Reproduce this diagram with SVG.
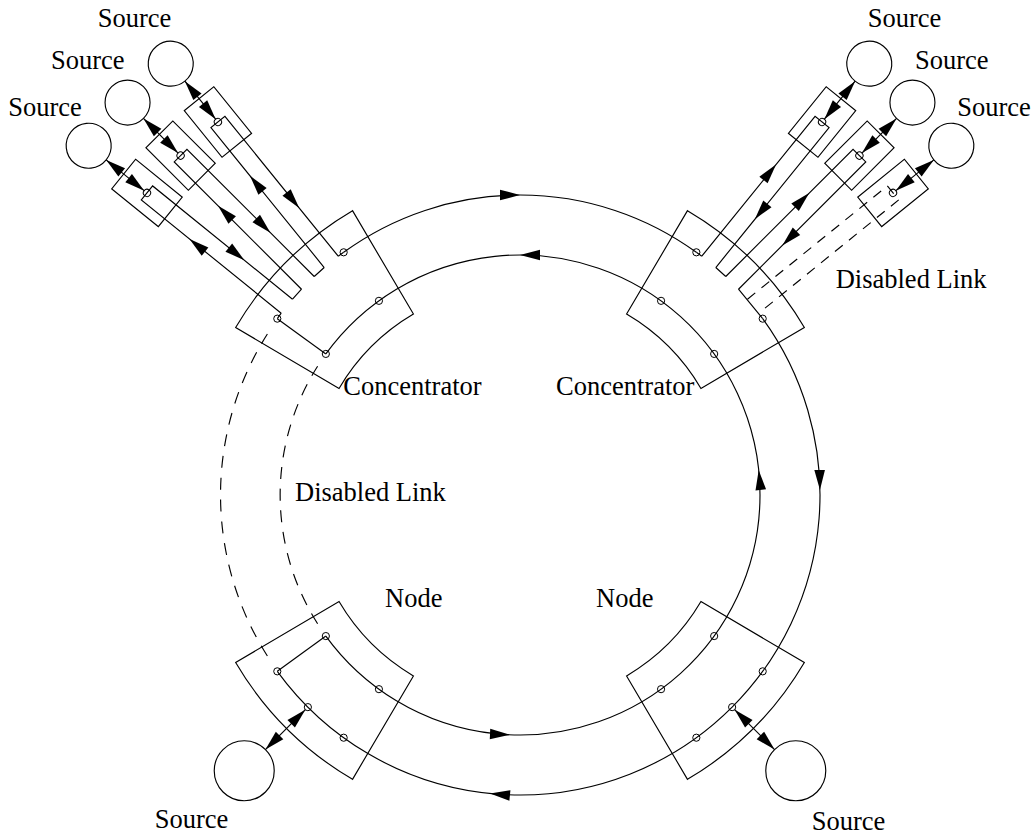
<svg xmlns="http://www.w3.org/2000/svg" xmlns:xlink="http://www.w3.org/1999/xlink" width="1035" height="836" viewBox="0 0 1035 836">
<style>
.ln{fill:none;stroke:#000;stroke-width:1.15}
.dl{fill:none;stroke:#000;stroke-width:1.15;stroke-dasharray:12 9.9}
.dl2{fill:none;stroke:#000;stroke-width:1.15;stroke-dasharray:12 9.7}
.dk{fill:none;stroke:#000;stroke-width:1.15;stroke-dasharray:10 8}
.pt{fill:none;stroke:#000;stroke-width:1}
.ah{fill:#000;stroke:none}
text{font-family:"Liberation Serif","Times New Roman",serif;font-size:26.5px;fill:#000}
</style>
<defs>
<path id="ah" class="ah" d="M0,0 L-20,-5.3 L-20,5.3 Z"/>
<path id="box" class="ln" d="M203.31,-52.58 L319.49,-82.63 A330,330 0 0 1 319.49,82.63 L203.31,52.58 A210,210 0 0 0 203.31,-52.58 Z"/>
<g id="remote">
<rect class="ln" x="450" y="-19" width="60" height="38"/>
<circle class="pt" cx="480" cy="0" r="3.6"/>
<circle class="ln" cx="555" cy="0" r="22.5"/>
<path class="ln" d="M483.6,0 H532.5"/>
<use xlink:href="#ah" transform="translate(483.6,0) rotate(180)"/>
<use xlink:href="#ah" transform="translate(532.5,0)"/>
</g>
<g id="leg">
<path class="ln" d="M300,-9 H480 V9 H300"/>
<use xlink:href="#ah" transform="translate(418,-9)"/>
<use xlink:href="#ah" transform="translate(362,9) rotate(180)"/>
</g>
</defs>
<rect width="1035" height="836" fill="#fff"/>

<g id="connectors">
<path class="ln" d="M343.66,252.30 A300,300 0 0 1 696.34,252.30"/>
<path class="ln" d="M762.70,318.66 A300,300 0 0 1 732.13,707.13 A300,300 0 0 1 277.30,671.34"/>
<path class="ln" d="M325.84,636.07 A240,240 0 1 0 325.84,353.93"/>
<path class="ln" d="M277.30,318.66 L325.84,353.93"/>
<path class="ln" d="M277.30,671.34 L325.84,636.07"/>
<path class="dl" d="M267.38,655.98 A300,300 0 0 1 267.38,334.02"/>
<path class="dl2" d="M317.60,623.74 A240,240 0 0 1 317.60,366.26"/>
<use xlink:href="#ah" transform="translate(520,195)"/>
<use xlink:href="#ah" transform="translate(819.96,490) rotate(89.05)"/>
<use xlink:href="#ah" transform="translate(490,793.5) rotate(185.74)"/>
<use xlink:href="#ah" transform="translate(520,255) rotate(180)"/>
<use xlink:href="#ah" transform="translate(758.69,470) rotate(-95.98)"/>
<use xlink:href="#ah" transform="translate(509.99,734.79) rotate(2.39)"/>
<path class="ln" d="M277.30,318.66 L281.19,313.20 M292.52,299.21 L301.50,289.23 M314.23,276.50 L324.21,267.52 M338.20,256.19 L343.66,252.30"/>
<path class="ln" d="M696.34,252.30 L701.80,256.19 M715.79,267.52 L725.77,276.50 M738.50,289.23 L762.70,318.66"/>
<use xlink:href="#leg" transform="translate(520,495) rotate(219)"/>
<use xlink:href="#leg" transform="translate(520,495) rotate(225)"/>
<use xlink:href="#leg" transform="translate(520,495) rotate(231)"/>
<use xlink:href="#leg" transform="translate(520,495) rotate(309)"/>
<use xlink:href="#leg" transform="translate(520,495) rotate(315)"/>
<path class="dk" transform="translate(520,495) rotate(321)" d="M300,-9 H480 V9 H300"/>
</g>

<g id="concentrator-left">
<use xlink:href="#box" transform="translate(520,495) rotate(225)"/>
<circle class="pt" cx="277.30" cy="318.66" r="3.6"/>
<circle class="pt" cx="343.66" cy="252.30" r="3.6"/>
<circle class="pt" cx="325.84" cy="353.93" r="3.6"/>
<circle class="pt" cx="378.93" cy="300.84" r="3.6"/>
<text x="343.3" y="394.5">Concentrator</text>
</g>
<g id="concentrator-right">
<use xlink:href="#box" transform="translate(520,495) rotate(315)"/>
<circle class="pt" cx="696.34" cy="252.30" r="3.6"/>
<circle class="pt" cx="762.70" cy="318.66" r="3.6"/>
<circle class="pt" cx="661.07" cy="300.84" r="3.6"/>
<circle class="pt" cx="714.16" cy="353.93" r="3.6"/>
<text x="556" y="394.5">Concentrator</text>
</g>
<g id="node-left">
<use xlink:href="#box" transform="translate(520,495) rotate(135)"/>
<circle class="pt" cx="325.84" cy="636.07" r="3.6"/>
<circle class="pt" cx="378.93" cy="689.16" r="3.6"/>
<circle class="pt" cx="277.30" cy="671.34" r="3.6"/>
<circle class="pt" cx="307.87" cy="707.13" r="3.6"/>
<circle class="pt" cx="343.66" cy="737.70" r="3.6"/>
<text x="385" y="607">Node</text>
</g>
<g id="node-right">
<use xlink:href="#box" transform="translate(520,495) rotate(45)"/>
<circle class="pt" cx="714.16" cy="636.07" r="3.6"/>
<circle class="pt" cx="661.07" cy="689.16" r="3.6"/>
<circle class="pt" cx="762.70" cy="671.34" r="3.6"/>
<circle class="pt" cx="732.13" cy="707.13" r="3.6"/>
<circle class="pt" cx="696.34" cy="737.70" r="3.6"/>
<text x="596" y="607">Node</text>
</g>

<g id="source-tl-1"><use xlink:href="#remote" transform="translate(520,495) rotate(231)"/><text x="97.7" y="26.7">Source</text></g>
<g id="source-tl-2"><use xlink:href="#remote" transform="translate(520,495) rotate(225)"/><text x="51" y="68.5">Source</text></g>
<g id="source-tl-3"><use xlink:href="#remote" transform="translate(520,495) rotate(219)"/><text x="8.3" y="115.5">Source</text></g>
<g id="source-tr-1"><use xlink:href="#remote" transform="translate(520,495) rotate(309)"/><text x="867.7" y="26.5">Source</text></g>
<g id="source-tr-2"><use xlink:href="#remote" transform="translate(520,495) rotate(315)"/><text x="915" y="68.5">Source</text></g>
<g id="source-tr-3">
<g transform="translate(520,495) rotate(321)">
<rect class="ln" x="450" y="-19" width="60" height="38"/>
<circle class="pt" cx="480" cy="0" r="3.6"/>
<circle class="ln" cx="555" cy="0" r="22.5"/>
<path class="ln" d="M483.6,0 H532.5"/>
<use xlink:href="#ah" transform="translate(483.6,0) rotate(180)"/>
<use xlink:href="#ah" transform="translate(532.5,0)"/>
</g>
<text x="957.3" y="115.5">Source</text>
</g>
<g id="source-bl">
<g transform="translate(520,495) rotate(135)">
<circle class="ln" cx="390" cy="0" r="30"/>
<path class="ln" d="M303.6,0 H360"/>
<use xlink:href="#ah" transform="translate(303.6,0) rotate(180)"/>
<use xlink:href="#ah" transform="translate(360,0)"/>
</g>
<text x="154.7" y="828">Source</text>
</g>
<g id="source-br">
<g transform="translate(520,495) rotate(45)">
<circle class="ln" cx="390" cy="0" r="30"/>
<path class="ln" d="M303.6,0 H360"/>
<use xlink:href="#ah" transform="translate(303.6,0) rotate(180)"/>
<use xlink:href="#ah" transform="translate(360,0)"/>
</g>
<text x="811.7" y="830">Source</text>
</g>
<g id="labels">
<text x="295" y="501">Disabled Link</text>
<text x="835.7" y="288.3">Disabled Link</text>
</g>
</svg>
